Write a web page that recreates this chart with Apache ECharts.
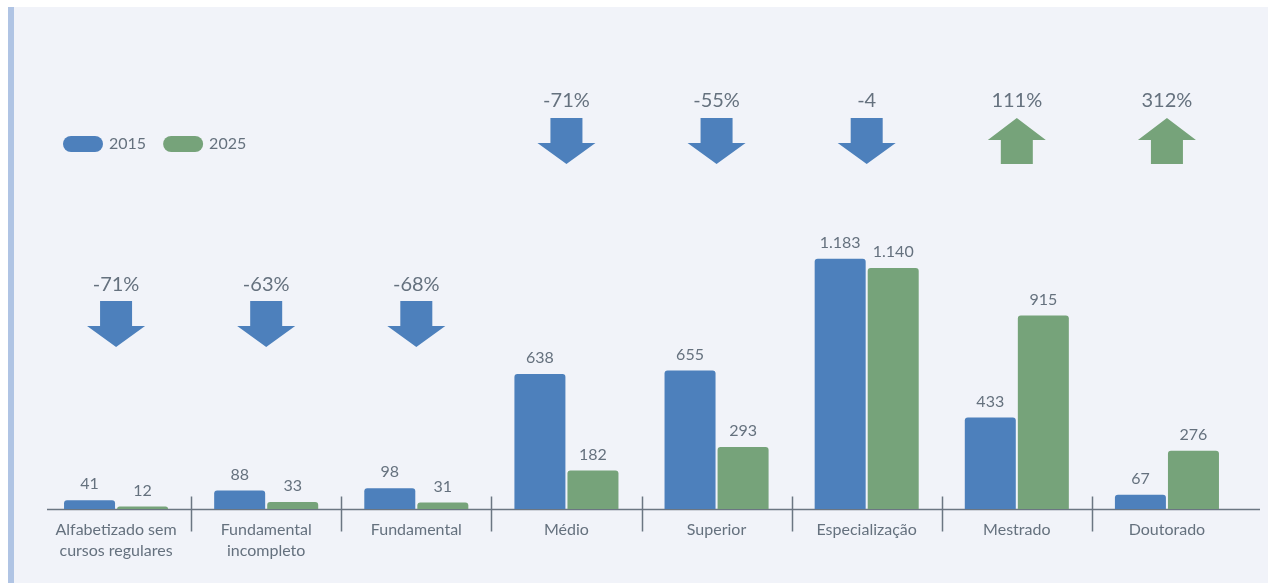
<!DOCTYPE html>
<html>
<head>
<meta charset="utf-8">
<script src="https://cdn.jsdelivr.net/npm/echarts@6/dist/echarts.min.js"></script>
<style>
    html, body {margin: 0; padding: 0; background: #ffffff; width: 1268px; height: 583px; overflow: hidden;}
    #panel {position: absolute; left: 8px; top: 7px; right: 0; bottom: 0; background: #f1f3f9; border-left: 6px solid #b0c4e4;}
    #main {position: absolute; left: 0; top: 0; width: 1268px; height: 583px;}
</style>
</head>
<body>
<div id="panel"></div>
<div id="main"></div>
<script>
// dados
let categories = ['Alfabetizado sem\ncursos regulares', 'Fundamental\nincompleto', 'Fundamental', 'Médio',
    'Superior', 'Especialização', 'Mestrado', 'Doutorado'];
let values2015 = [41, 88, 98, 638, 655, 1183, 433, 67];
let values2025 = [12, 33, 31, 182, 293, 1140, 915, 276];
let changeLabels = ['-71%', '-63%', '-68%', '-71%', '-55%', '-4', '111%', '312%'];

let blue = '#4d80bc', green = '#76a37a', textColor = '#65717e', lineColor = '#6b7682';
let font = 'Lato, "Open Sans", sans-serif';

// 1.183 etc
function fmt(v) {
    return String(v).replace(/\B(?=(\d{3})+(?!\d))/g, '.');
}

let myChart = echarts.init(document.getElementById('main'), null, {renderer: 'canvas'});

let barLabel = {
    show: true,
    position: 'top',
    distance: 8,
    color: textColor,
    fontSize: 16,
    fontFamily: font,
    formatter: function (p) {
        return fmt(p.value);
    }
};

let option = {
    backgroundColor: 'transparent',
    animation: false,
    textStyle: {fontFamily: font},
    legend: {
        left: 58,
        top: 131,
        itemWidth: 40,
        itemHeight: 16,
        itemGap: 17,
        icon: 'path://M8,0 H32 A8,8 0 0 1 32,16 H8 A8,8 0 0 1 8,0 Z',
        textStyle: {color: textColor, fontSize: 16, fontFamily: font, padding: [0, 0, 0, 1]},
        data: ['2015', '2025']
    },
    grid: {
        left: 41,
        right: 26,
        top: 86,
        bottom: 74
    },
    xAxis: [
        {
            type: 'category',
            data: categories,
            axisLine: {show: false},
            axisTick: {show: false},
            axisLabel: {
                interval: 0,
                margin: 10,
                color: textColor,
                fontSize: 16,
                lineHeight: 21,
                fontFamily: font
            }
        }
    ],
    yAxis: [
        {
            type: 'value',
            min: 0,
            max: 2000,
            show: false,
            splitLine: {show: false}
        }
    ],
    series: [
        {
            name: '2015',
            type: 'bar',
            data: values2015,
            barWidth: 51,
            barGap: '4%',
            itemStyle: {color: blue, borderRadius: [3, 3, 0, 0]},
            label: barLabel
        },
        {
            name: '2025',
            type: 'bar',
            data: values2025,
            barWidth: 51,
            itemStyle: {color: green, borderRadius: [3, 3, 0, 0]},
            label: barLabel
        }
    ]
};
myChart.setOption(option);

// linha do eixo, divisórias e setas
function drawExtras() {
    let graphics = [];
    let base = myChart.convertToPixel({xAxisIndex: 0, yAxisIndex: 0}, [0, 0]);
    let axisY = Math.round(base[1]) + 0.5;
    let centers = [];
    for (let i = 0; i < categories.length; i++) {
        centers.push(myChart.convertToPixel({xAxisIndex: 0, yAxisIndex: 0}, [i, 0])[0]);
    }
    graphics.push({
        type: 'line',
        shape: {x1: 47, y1: axisY, x2: 1260, y2: axisY},
        style: {stroke: lineColor, lineWidth: 1.5}
    });
    for (let i = 1; i < centers.length; i++) {
        let x = Math.round((centers[i - 1] + centers[i]) / 2) + 0.5;
        graphics.push({
            type: 'line',
            shape: {x1: x, y1: axisY - 13, x2: x, y2: axisY + 22},
            style: {stroke: lineColor, lineWidth: 1.5}
        });
    }
    for (let i = 0; i < changeLabels.length; i++) {
        let cx = centers[i];
        let down = changeLabels[i].charAt(0) === '-';
        let low = Math.max(values2015[i], values2025[i]) < 200;
        let textY = low ? 285 : 101;
        let y0 = low ? 301 : 118;
        let pts;
        if (down) {
            pts = [[cx - 16, y0], [cx + 16, y0], [cx + 16, y0 + 25], [cx + 29, y0 + 25], [cx, y0 + 46],
                [cx - 29, y0 + 25], [cx - 16, y0 + 25]];
        } else {
            pts = [[cx, y0], [cx + 29, y0 + 22], [cx + 16, y0 + 22], [cx + 16, y0 + 46], [cx - 16, y0 + 46],
                [cx - 16, y0 + 22], [cx - 29, y0 + 22]];
        }
        graphics.push({
            type: 'polygon',
            shape: {points: pts},
            style: {fill: down ? blue : green}
        });
        graphics.push({
            type: 'text',
            style: {
                text: changeLabels[i],
                x: cx,
                y: textY,
                align: 'center',
                verticalAlign: 'middle',
                font: '20px ' + font,
                fill: textColor
            }
        });
    }
    myChart.setOption({graphic: graphics});
}
drawExtras();
</script>
</body>
</html>
